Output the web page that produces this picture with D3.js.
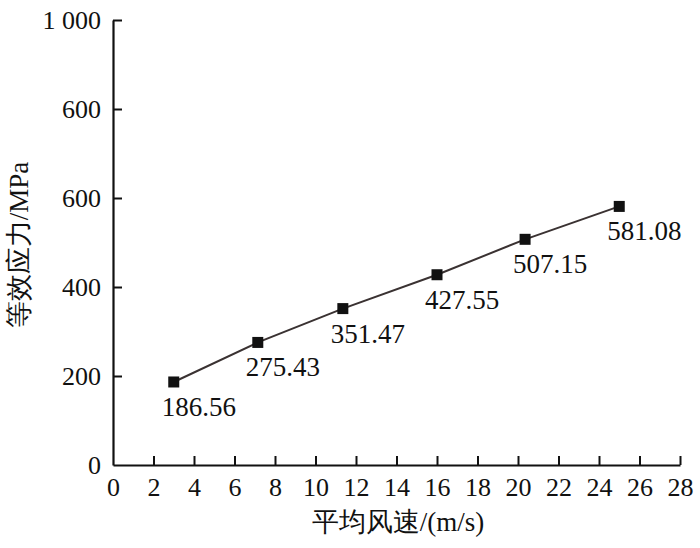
<!DOCTYPE html>
<html><head><meta charset="utf-8">
<script src="https://cdn.jsdelivr.net/npm/d3@7"></script>
<style>body{margin:0;background:#fff}</style>
</head><body>
<svg id="c" width="700" height="548"></svg>
<script>
const windSpeed = [3, 7.15, 11.35, 16, 20.35, 25];
const stress = [186.56, 275.43, 351.47, 427.55, 507.15, 581.08];
const stressLabels = ["186.56", "275.43", "351.47", "427.55", "507.15", "581.08"];
const xTicks = [0,2,4,6,8,10,12,14,16,18,20,22,24,26,28];
const yTicks = [0,200,400,600,800,1000];
const yTickLabels = ["0","200","400","600","600","1 000"];
const xTitle = "平均风速/(m/s)";
const yTitle = "等效应力/MPa";

const svg = d3.select("#c");
const font = "'Liberation Serif','Times New Roman',serif";
const x = d3.scaleLinear().domain([0,28]).range([113,680]);
const y = d3.scaleLinear().domain([0,1000]).range([465,20]);

const xa = svg.append("g").attr("transform","translate(0,465)")
  .call(d3.axisBottom(x).tickValues(xTicks).tickSize(-9).tickPadding(13).tickSizeOuter(0));
const ya = svg.append("g").attr("transform","translate(113,0)")
  .call(d3.axisLeft(y).tickValues(yTicks).tickSize(-9).tickPadding(12).tickSizeOuter(0)
    .tickFormat((d,i)=>yTickLabels[i]));
[xa,ya].forEach(a=>{
  a.selectAll("path").attr("stroke","#111").attr("stroke-width",2.2);
  a.selectAll("line").attr("stroke","#111").attr("stroke-width",2);
  a.selectAll("text").attr("font-family",font).attr("font-size",26).attr("fill","#111");
});
xa.selectAll(".tick").filter(d=>d===0).select("line").remove();
ya.selectAll(".tick").filter(d=>d===0).select("line").remove();
xa.selectAll("text").attr("dy","0.71em");

const pts = windSpeed.map((v,i)=>[v,stress[i]]);
svg.append("path").datum(pts)
  .attr("d",d3.line().x(d=>x(d[0])).y(d=>y(d[1])))
  .attr("fill","none").attr("stroke","#3a3232").attr("stroke-width",2);
svg.selectAll("rect.m").data(pts).join("rect").attr("class","m")
  .attr("x",d=>x(d[0])-5.5).attr("y",d=>y(d[1])-5.5)
  .attr("width",11).attr("height",11).attr("fill","#111");
svg.selectAll("text.lab").data(pts).join("text").attr("class","lab")
  .attr("x",d=>x(d[0])-12).attr("y",d=>y(d[1])+34)
  .attr("font-family",font).attr("font-size",27).attr("fill","#111")
  .text((d,i)=>stressLabels[i]);

svg.append("text").attr("x",398).attr("y",531).attr("text-anchor","middle")
  .attr("font-family",font).attr("font-size",27).attr("fill","#111").text(xTitle);
svg.append("text").attr("transform","translate(28,245) rotate(-90)").attr("text-anchor","middle")
  .attr("font-family",font).attr("font-size",27).attr("fill","#111").text(yTitle);
</script>
</body></html>
